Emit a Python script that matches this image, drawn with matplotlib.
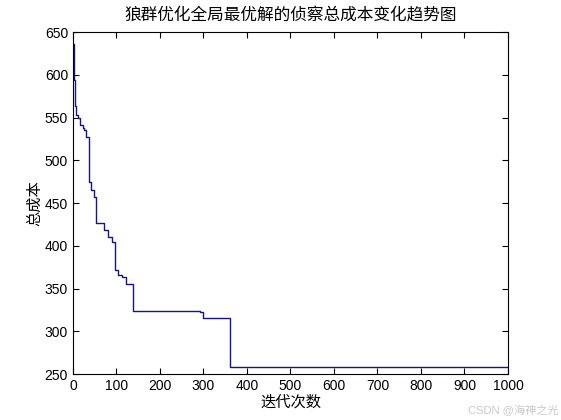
import numpy as np
import matplotlib
matplotlib.use('Agg')
import matplotlib.pyplot as plt

plt.rcParams['font.family'] = ['Liberation Sans', 'Noto Sans CJK SC', 'DejaVu Sans']

# iterations where the best cost changes, and the new best cost
change_iters = [1, 2, 3, 4, 6, 11, 17, 22, 25, 31, 37, 41, 48, 53, 71, 81, 89, 97,
                104, 112, 122, 139, 292, 300, 361, 1000]
change_costs = [636, 615, 594, 563, 553, 549, 541, 538, 535, 527, 475, 465, 457, 427,
                418, 410, 404, 372, 366, 363, 355, 324, 322, 316, 258, 258]

title = '狼群优化全局最优解的侦察总成本变化趋势图'
xlabel = '迭代次数'
ylabel = '总成本'

fig = plt.figure(figsize=(5.61, 4.2), dpi=100)
ax = fig.add_axes([0.13, 0.1095, 0.7755, 0.8143])

ax.plot(change_iters, change_costs, drawstyle='steps-post', color='#14148c', lw=1.0)

ax.set_xlim(0, 1000)
ax.set_ylim(250, 650)
ax.set_xticks(np.arange(0, 1001, 100))
ax.set_yticks(np.arange(250, 651, 50))
ax.tick_params(direction='in', top=True, right=True, labelsize=10, length=4, width=0.8)
for s in ax.spines.values():
    s.set_linewidth(0.8)

ax.set_title(title, fontsize=12, pad=8)
ax.set_xlabel(xlabel, fontsize=11, labelpad=2)
ax.set_ylabel(ylabel, fontsize=11, labelpad=2)

fig.text(0.995, 0.01, 'CSDN @海神之光', ha='right', va='bottom', fontsize=8, color='#c8c8c8')

fig.savefig('out.png', dpi=100)
